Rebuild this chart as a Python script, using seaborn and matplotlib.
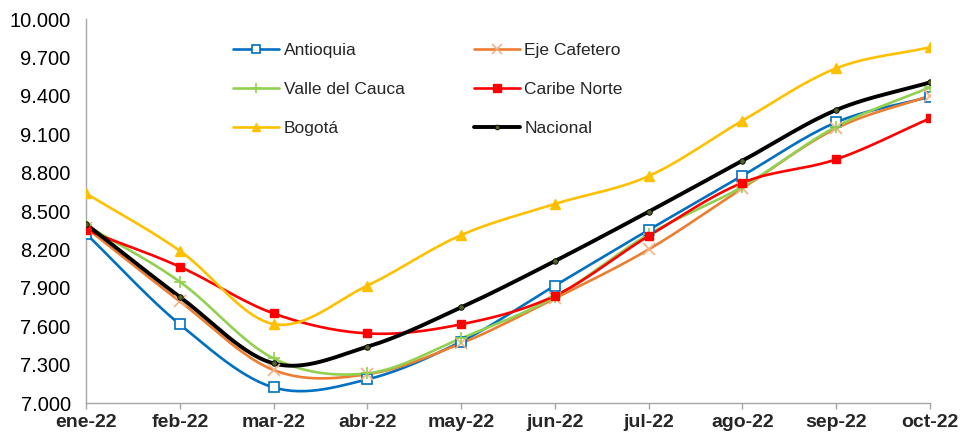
import numpy as np
import pandas as pd
import matplotlib
matplotlib.use("Agg")
import matplotlib.pyplot as plt
from matplotlib.lines import Line2D
from matplotlib.ticker import FuncFormatter
import seaborn as sns

months = ["ene-22", "feb-22", "mar-22", "abr-22", "may-22", "jun-22",
          "jul-22", "ago-22", "sep-22", "oct-22"]
antioquia = [8323, 7615, 7122, 7185, 7480, 7917, 8352, 8776, 9193, 9393]
eje_cafetero = [8370, 7795, 7258, 7225, 7466, 7818, 8200, 8677, 9146, 9401]
valle = [8390, 7948, 7349, 7232, 7505, 7830, 8318, 8690, 9159, 9466]
caribe = [8352, 8065, 7700, 7544, 7615, 7838, 8305, 8721, 8904, 9224]
bogota = [8638, 8190, 7617, 7917, 8312, 8555, 8773, 9206, 9615, 9779]
nacional = [8398, 7830, 7310, 7440, 7747, 8109, 8495, 8893, 9289, 9505]
y_ticks = [7000, 7300, 7600, 7900, 8200, 8500, 8800, 9100, 9400, 9700, 10000]

series = [
    ("Antioquia", antioquia, dict(color="#0070C0", marker="s", mfc="white", mec="#0070C0", ms=7, mew=1.2, lw=1.9)),
    ("Eje Cafetero", eje_cafetero, dict(color="#ED7D31", marker="x", mfc="none", mec="#F4B183", ms=8, mew=1.2, lw=1.9)),
    ("Valle del Cauca", valle, dict(color="#92D050", marker="+", mfc="none", mec="#92D050", ms=9, mew=1.2, lw=1.9)),
    ("Caribe Norte", caribe, dict(color="#FF0000", marker="s", mfc="#FF0000", mec="#FF0000", ms=6, mew=1.0, lw=1.9)),
    ("Bogotá", bogota, dict(color="#FFC000", marker="^", mfc="#FFC000", mec="#FFC000", ms=7, mew=1.0, lw=1.9)),
    ("Nacional", nacional, dict(color="#000000", marker="o", mfc="#4F6228", mec="#000000", ms=4, mew=0.6, lw=2.8)),
]


def smooth(xs, ys, n=30, t=0.5):
    xs = np.asarray(xs, float)
    ys = np.asarray(ys, float)
    px = np.concatenate([[2 * xs[0] - xs[1]], xs, [2 * xs[-1] - xs[-2]]])
    py = np.concatenate([[2 * ys[0] - ys[1]], ys, [2 * ys[-1] - ys[-2]]])
    outx, outy = [], []
    for i in range(1, len(px) - 2):
        p0, p1, p2, p3 = (np.array([px[j], py[j]]) for j in range(i - 1, i + 3))
        c1 = p1 + (p2 - p0) * t / 3
        c2 = p2 - (p3 - p1) * t / 3
        s = np.linspace(0, 1, n, endpoint=(i == len(px) - 3))[:, None]
        pts = (1 - s) ** 3 * p1 + 3 * (1 - s) ** 2 * s * c1 + 3 * (1 - s) * s ** 2 * c2 + s ** 3 * p2
        outx.extend(pts[:, 0])
        outy.extend(pts[:, 1])
    return np.array(outx), np.array(outy)


sns.set_theme(style="white")
plt.rcParams["font.family"] = ["Liberation Sans", "DejaVu Sans"]

fig = plt.figure(figsize=(9.63, 4.32), dpi=100)
ax = fig.add_axes([0.0893, 0.067, 0.8764, 0.889])

x = np.arange(len(months))
handles = {}
for name, vals, st in series:
    sx, sy = smooth(x, vals)
    df = pd.DataFrame({"x": sx, "y": sy})
    sns.lineplot(data=df, x="x", y="y", ax=ax, color=st["color"], lw=st["lw"],
                 sort=False, estimator=None, zorder=3 if name != "Nacional" else 4)
    ax.plot(x, vals, ls="none", marker=st["marker"], ms=st["ms"], mfc=st["mfc"],
            mec=st["mec"], mew=st["mew"], zorder=5)
    handles[name] = Line2D([], [], color=st["color"], lw=st["lw"], marker=st["marker"],
                           ms=st["ms"] * 0.85, mfc=st["mfc"], mec=st["mec"], mew=st["mew"])

ax.set_xlim(0, len(months) - 1)
ax.set_ylim(7000, 10000)
ax.set_xticks(x)
ax.set_xticklabels(months, fontsize=14, fontweight="bold")
ax.set_yticks(y_ticks)
ax.yaxis.set_major_formatter(FuncFormatter(lambda v, p: f"{int(v):,}".replace(",", ".")))
ax.tick_params(axis="y", labelsize=14.5, length=0, pad=11, colors="#000000")
ax.tick_params(axis="x", length=4, width=1, color="#A6A6A6", pad=4, direction="out", bottom=True)
ax.set_xlabel("")
ax.set_ylabel("")
for s in ["top", "right"]:
    ax.spines[s].set_visible(False)
for s in ["left", "bottom"]:
    ax.spines[s].set_color("#A6A6A6")
    ax.spines[s].set_linewidth(1)

order = ["Antioquia", "Valle del Cauca", "Bogotá", "Eje Cafetero", "Caribe Norte", "Nacional"]
leg = ax.legend([handles[n] for n in order], order, ncol=2, frameon=False,
                loc="upper left", bbox_to_anchor=(0.156, 0.978), fontsize=12.5,
                handlelength=2.65, columnspacing=4.0, labelspacing=1.38, handletextpad=0.25)

fig.savefig("out.png", dpi=100)
